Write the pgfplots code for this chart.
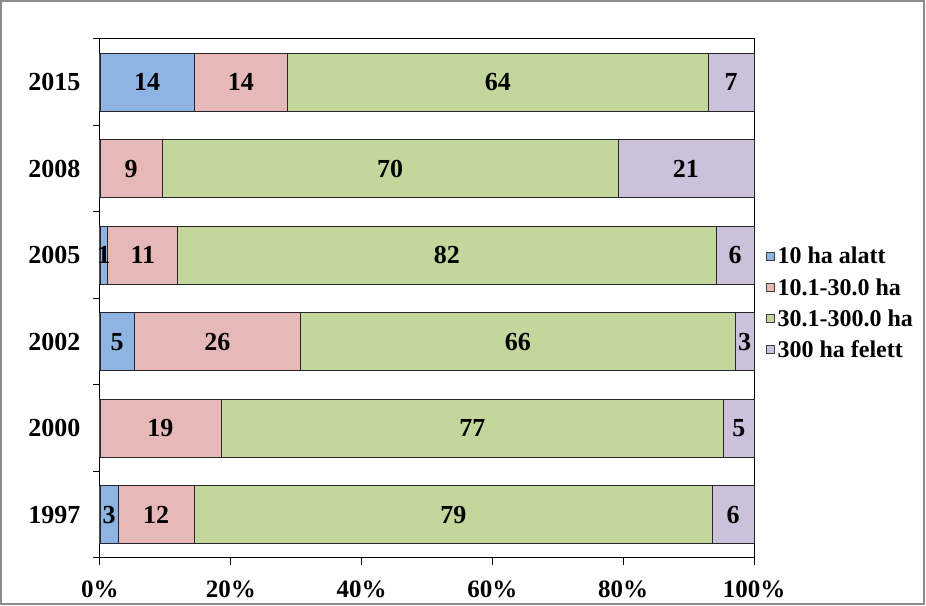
\documentclass[border=0pt]{standalone}
\usepackage{pgfplots}
\pgfplotsset{compat=1.18}
\usepackage{pgfplotstable}
\usepackage{fontspec}
\setmainfont{Liberation Serif}
\definecolor{cblue}{HTML}{8DB4E2}
\definecolor{cpink}{HTML}{E6B9B8}
\definecolor{cgreen}{HTML}{C3D69B}
\definecolor{cpurple}{HTML}{CCC1DA}

% cumulative right ends of each segment (percent of row total)
% y: 0=1997, 1=2000, 2=2002, 3=2005, 4=2008, 5=2015
\pgfplotstableread{
y  blue  pink  green  total
0  2.75  14.5  93.6   100
1  0     18.5  95.4   100
2  5.2   30.7  97.1   100
3  1.2   11.9  94.2   100
4  0     9.5   79.2   100
5  14.4  28.7  93.0   100
}\ends

% data labels, placed at the middle of each segment
\pgfplotstableread{
x      y  lab
1.4    0  3
8.6    0  12
54.05  0  79
96.8   0  6
9.25   1  19
56.95  1  77
97.7   1  5
2.6    2  5
17.95  2  26
63.9   2  66
98.55  2  3
0.6    3  1
6.55   3  11
53.05  3  82
97.1   3  6
4.75   4  9
44.35  4  70
89.6   4  21
7.2    5  14
21.55  5  14
60.85  5  64
96.5   5  7
}\labels

\begin{document}
\begin{tikzpicture}
\begin{axis}[
  name=ax,
  scale only axis,
  width=654pt, height=519pt,
  xmin=0, xmax=100, ymin=-0.5, ymax=5.5,
  axis line style={line width=1pt, black},
  tick style={line width=1pt, black},
  tick align=outside,
  xtick pos=bottom, ytick pos=left,
  major tick length=7pt,
  xtick={0,20,40,60,80,100},
  xticklabels={0\%,20\%,40\%,60\%,80\%,100\%},
  xticklabel style={font=\fontsize{25}{30}\selectfont\bfseries, yshift=-12pt},
  ytick={-0.5,0.5,1.5,2.5,3.5,4.5,5.5},
  yticklabels={},
  extra y ticks={0,1,2,3,4,5},
  extra y tick labels={1997,2000,2002,2005,2008,2015},
  extra y tick style={major tick length=0pt, yticklabel style={font=\fontsize{26}{30}\selectfont\bfseries, xshift=-16pt}},
  legend style={draw=none, fill=none, at={(1.018,0.491)}, anchor=west,
    font=\fontsize{24}{28}\selectfont\bfseries, cells={anchor=west},
    row sep=9pt, inner sep=0pt},
  legend image code/.code={\draw[#1, line width=0.8pt] (0pt,-4pt) rectangle (8pt,4pt); \path (9pt,0pt);},
  legend entries={10 ha alatt,10.1-30.0 ha,30.1-300.0 ha,300 ha felett},
  clip=false,
]
\addlegendimage{fill=cblue, draw=black!75}
\addlegendimage{fill=cpink, draw=black!75}
\addlegendimage{fill=cgreen, draw=black!75}
\addlegendimage{fill=cpurple, draw=black!75}

\addplot[xbar, bar shift=0pt, bar width=0.67, fill=cpurple, draw=black!85, line width=0.9pt, forget plot] table[x=total, y=y] {\ends};
\addplot[xbar, bar shift=0pt, bar width=0.67, fill=cgreen, draw=black!85, line width=0.9pt, forget plot] table[x=green, y=y] {\ends};
\addplot[xbar, bar shift=0pt, bar width=0.67, fill=cpink, draw=black!85, line width=0.9pt, forget plot] table[x=pink, y=y] {\ends};
\addplot[xbar, bar shift=0pt, bar width=0.67, fill=cblue, draw=black!85, line width=0.9pt, forget plot] table[x=blue, y=y] {\ends};

\addplot[only marks, mark=none, forget plot, nodes near coords, point meta=explicit symbolic,
  nodes near coords style={anchor=center, font=\fontsize{26}{30}\selectfont\bfseries, inner sep=0pt}]
  table[x=x, y=y, meta=lab] {\labels};
\end{axis}
\draw[black!45, line width=1.2pt] ([shift={(-99pt,-46pt)}]ax.south west) rectangle ([shift={(170pt,38pt)}]ax.north east);
\path ([shift={(-100pt,-48pt)}]ax.south west) rectangle ([shift={(172pt,39pt)}]ax.north east);
\end{tikzpicture}
\end{document}
